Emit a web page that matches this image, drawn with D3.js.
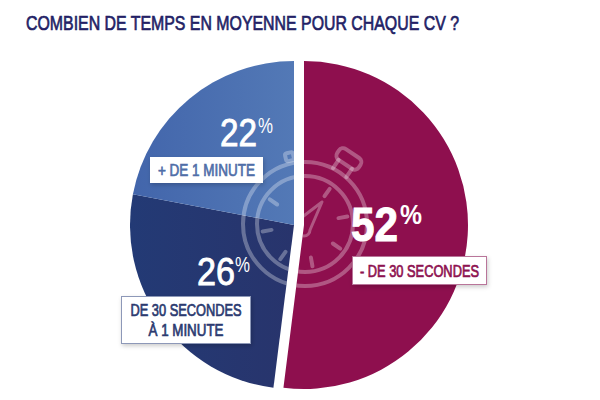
<!DOCTYPE html>
<html><head><meta charset="utf-8">
<script src="https://cdn.jsdelivr.net/npm/d3@7"></script>
<style>html,body{margin:0;background:#fff}svg{display:block}text{font-family:"Liberation Sans",Arial,sans-serif}</style>
</head><body><script>
const titleText = "COMBIEN DE TEMPS EN MOYENNE POUR CHAQUE CV ?";
const categories = ["- DE 30 SECONDES", "DE 30 SECONDES À 1 MINUTE", "+ DE 1 MINUTE"];
const values = [52, 26, 22];
const labelLines = [["- DE 30 SECONDES"], ["DE 30 SECONDES", "À 1 MINUTE"], ["+ DE 1 MINUTE"]];
const sliceColors = ["url(#gMaroon)", "url(#gNavy)", "url(#gBlue)"];
const textColors = ["#8e1250", "#2b3a70", "#4f6ea8"];
const borderColors = ["#b9759a", "#8d98b8", "#ffffff"];

const svg = d3.select("body").append("svg").attr("width", 600).attr("height", 400);
const defs = svg.append("defs");
function grad(id, a, b, x1, x2) {
  const g = defs.append("linearGradient").attr("id", id).attr("gradientUnits", "userSpaceOnUse")
    .attr("x1", x1).attr("x2", x2).attr("y1", 0).attr("y2", 0);
  g.append("stop").attr("offset", 0).attr("stop-color", a);
  g.append("stop").attr("offset", 1).attr("stop-color", b);
}
grad("gMaroon", "#8e0f4e", "#8e0f4e", 0, 170);
grad("gNavy", "#233a75", "#28346c", -164, 0);
grad("gBlue", "#4265ab", "#5379b6", -164, 0);
const sh = defs.append("filter").attr("id", "shadow").attr("x", "-10%").attr("y", "-20%").attr("width", "120%").attr("height", "150%");
sh.append("feDropShadow").attr("dx", 1).attr("dy", 2).attr("stdDeviation", 2).attr("flood-color", "#000").attr("flood-opacity", 0.2);

svg.append("text").attr("x", 26).attr("y", 29.5).attr("font-size", 20.5).attr("font-weight", 400)
  .attr("stroke", "#231f66").attr("stroke-width", 0.7)
  .attr("fill", "#231f66").attr("textLength", 433).attr("lengthAdjust", "spacingAndGlyphs").text(titleText);

const radius = 164;
const centers = [[304, 225], [294, 225], [294, 225]];
const pie = d3.pie().sort(null);
const arc = d3.arc().innerRadius(0).outerRadius(radius);
const arcs = pie(values);

svg.append("g").selectAll("path").data(arcs).join("path")
  .attr("transform", (d, i) => `translate(${centers[i]})`)
  .attr("fill", (d, i) => sliceColors[i]).attr("d", arc);

// Stopwatch watermark, clipped to the slices
const clip = defs.append("clipPath").attr("id", "slices");
clip.selectAll("path").data(arcs).join("path")
  .attr("transform", (d, i) => `translate(${centers[i]})`).attr("d", arc);
const w = svg.append("g").attr("clip-path", "url(#slices)").append("g")
  .attr("transform", "translate(305,224)")
  .attr("fill", "none").attr("stroke", "#fff").attr("stroke-opacity", 0.3)
  .attr("stroke-width", 4).attr("stroke-linecap", "round").attr("stroke-linejoin", "round");
w.append("circle").attr("r", 62);
w.append("circle").attr("r", 48);
[35, 80, 125, 170, 215, 260, 305].forEach(a => {
  const t = (a - 90) * Math.PI / 180;
  w.append("line").attr("x1", 34 * Math.cos(t)).attr("y1", 34 * Math.sin(t))
    .attr("x2", 43 * Math.cos(t)).attr("y2", 43 * Math.sin(t));
});
w.append("path").attr("d", "M17,-22 L-4,-6 L-7,6 A6,6 0 0 0 5,6 Z").attr("stroke-width", 3);
const crown = w.append("g").attr("transform", "rotate(34)");
crown.append("rect").attr("x", -13).attr("y", -85).attr("width", 26).attr("height", 13).attr("rx", 5);
crown.append("line").attr("x1", -8).attr("x2", -8).attr("y1", -72).attr("y2", -62);
crown.append("line").attr("x1", 8).attr("x2", 8).attr("y1", -72).attr("y2", -62);
const knob = w.append("g").attr("transform", "rotate(-13)");
knob.append("rect").attr("x", -4).attr("y", -73).attr("width", 8).attr("height", 8).attr("rx", 2);

// Percent figures
const figureLayout = [
  { x: 351, y: 241, s: 48, w: 47, ps: 27, pw: 22, px: 400, py: 224 },
  { x: 197, y: 285, s: 39, w: 38, ps: 22, pw: 15, px: 235, py: 272 },
  { x: 220, y: 146, s: 39, w: 37, ps: 22, pw: 15, px: 258, py: 133 }
];
const figs = svg.append("g").attr("fill", "#fff").selectAll("g").data(values).join("g");
figs.append("text").attr("x", (d, i) => figureLayout[i].x).attr("y", (d, i) => figureLayout[i].y)
  .attr("font-size", (d, i) => figureLayout[i].s).attr("font-weight", (d, i) => i === 0 ? 700 : 400)
  .attr("stroke", "#fff").attr("stroke-width", (d, i) => i === 0 ? 1 : 0.9)
  .attr("textLength", (d, i) => figureLayout[i].w).attr("lengthAdjust", "spacingAndGlyphs").text(d => d);
figs.append("text").attr("x", (d, i) => figureLayout[i].px).attr("y", (d, i) => figureLayout[i].py)
  .attr("font-size", (d, i) => figureLayout[i].ps).attr("font-weight", (d, i) => i === 0 ? 700 : 400)
  .attr("textLength", (d, i) => figureLayout[i].pw).attr("lengthAdjust", "spacingAndGlyphs").text("%");

// Label boxes
const boxLayout = [
  { x: 352, y: 256, w: 135, h: 29, tw: [119] },
  { x: 121, y: 296, w: 130, h: 48, tw: [111, 75] },
  { x: 150, y: 157, w: 113, h: 26, tw: [97] }
];
const boxes = svg.append("g").selectAll("g").data(labelLines).join("g");
boxes.append("rect")
  .attr("x", (d, i) => boxLayout[i].x + .5).attr("y", (d, i) => boxLayout[i].y + .5)
  .attr("width", (d, i) => boxLayout[i].w - 1).attr("height", (d, i) => boxLayout[i].h - 1)
  .attr("fill", "#fff").attr("stroke", (d, i) => borderColors[i]).attr("filter", "url(#shadow)");
boxes.each(function (lines, i) {
  const b = boxLayout[i], lh = 20;
  const top = b.y + b.h / 2 - (lines.length - 1) * lh / 2 + 6;
  lines.forEach((t, j) => {
    d3.select(this).append("text").attr("x", b.x + b.w / 2).attr("y", top + j * lh)
      .attr("text-anchor", "middle").attr("font-size", 16.5).attr("font-weight", 400)
      .attr("stroke", textColors[i]).attr("stroke-width", 0.7)
      .attr("fill", textColors[i]).attr("textLength", b.tw[j]).attr("lengthAdjust", "spacingAndGlyphs").text(t);
  });
});
</script></body></html>
